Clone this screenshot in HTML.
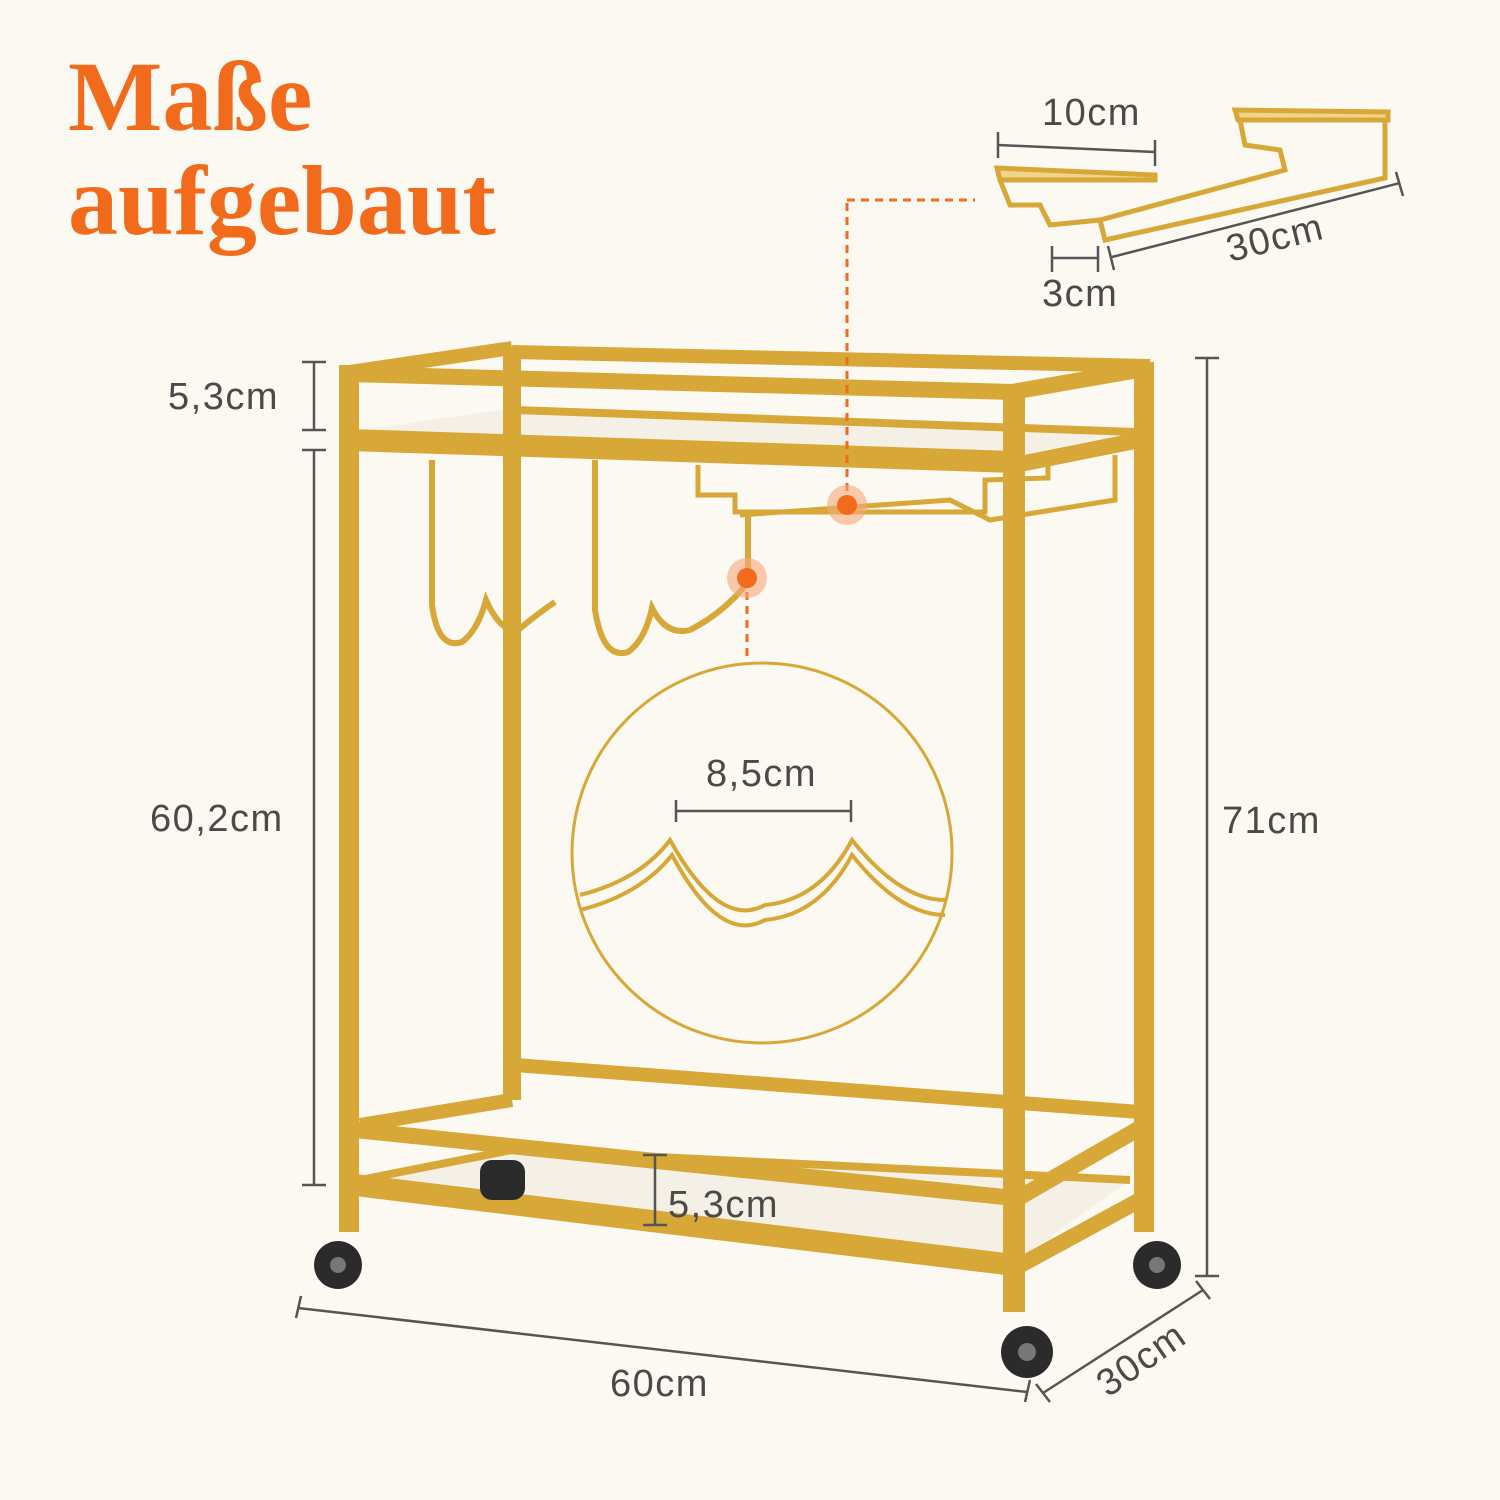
<!DOCTYPE html>
<html><head><meta charset="utf-8"><style>
html,body{margin:0;padding:0;background:#fcf9f3;}
svg{display:block}
.t{font-family:"Liberation Sans",sans-serif;fill:#4a4a4a;font-size:38px;letter-spacing:1.5px}
</style></head><body>
<svg width="1500" height="1500" viewBox="0 0 1500 1500" xmlns="http://www.w3.org/2000/svg">
<rect width="1500" height="1500" fill="#fcf9f3"/>
<text x="68" y="130" font-family="Liberation Serif,serif" font-weight="bold" font-size="100" fill="#f26a1b">Maße</text>
<text x="68" y="234" font-family="Liberation Serif,serif" font-weight="bold" font-size="100" fill="#f26a1b">aufgebaut</text>

<g stroke="#d7a838" stroke-linecap="butt" fill="none">
<polygon points="360,430 515,408 1135,432 1015,462" fill="#f2ede2" stroke="none" opacity="0.8"/>
<polygon points="360,1180 515,1150 1130,1180 1015,1262" fill="#f2ede2" stroke="none" opacity="0.8"/>
<line x1="512" y1="348" x2="512" y2="1100" stroke-width="18"/>
<line x1="1144" y1="362" x2="1144" y2="1232" stroke-width="20"/>
<line x1="512" y1="352" x2="1150" y2="366" stroke-width="14"/>
<line x1="515" y1="410" x2="1135" y2="432" stroke-width="8"/>
<line x1="515" y1="1065" x2="1140" y2="1112" stroke-width="14"/>
<line x1="515" y1="1150" x2="1130" y2="1180" stroke-width="8"/>
<!-- wine rack -->
<path d="M432,460 L432,605 Q438,650 462,642 Q478,630 486,600 Q500,632 518,630 Q540,612 555,602" stroke-width="6"/>
<path d="M595,460 L595,610 Q603,660 628,652 Q645,640 652,608 Q666,636 690,630 Q725,612 748,582 L748,510" stroke-width="6"/>
<path d="M698,465 L698,495 L735,495 L735,512 L985,512 L985,480 L1048,478 L1048,460" stroke-width="5"/>
<path d="M740,515 L950,500 L990,520 L1115,500 L1115,455" stroke-width="5"/>
<line x1="349" y1="372" x2="512" y2="348" stroke-width="14"/>
<line x1="1012" y1="392" x2="1150" y2="368" stroke-width="16"/>
<line x1="1015" y1="465" x2="1140" y2="440" stroke-width="16"/>
<line x1="360" y1="1125" x2="512" y2="1100" stroke-width="14"/>
<line x1="1015" y1="1200" x2="1140" y2="1128" stroke-width="16"/>
<line x1="1015" y1="1268" x2="1140" y2="1200" stroke-width="16"/>
<line x1="360" y1="1180" x2="512" y2="1150" stroke-width="8"/>
<line x1="349" y1="374" x2="1014" y2="392" stroke-width="16"/>
<line x1="349" y1="440" x2="1014" y2="462" stroke-width="22"/>
<line x1="355" y1="1130" x2="1014" y2="1198" stroke-width="16"/>
<line x1="355" y1="1185" x2="1014" y2="1265" stroke-width="22"/>
<line x1="349" y1="365" x2="349" y2="1232" stroke-width="20"/>
<line x1="1014" y1="385" x2="1014" y2="1312" stroke-width="22"/>
</g>
<g fill="#2b2b2b">
<circle cx="338" cy="1265" r="24"/><circle cx="1157" cy="1265" r="24"/><circle cx="1027" cy="1352" r="26"/>
<rect x="480" y="1160" width="45" height="40" rx="12"/>
</g>
<g fill="#777"><circle cx="338" cy="1265" r="8"/><circle cx="1157" cy="1265" r="8"/><circle cx="1027" cy="1352" r="9"/></g>

<g stroke="#f26a1b" stroke-width="3" stroke-dasharray="8,6" fill="none">
<line x1="847" y1="505" x2="847" y2="200"/><line x1="847" y1="200" x2="975" y2="200"/>
<line x1="747" y1="578" x2="747" y2="660"/>
</g>
<circle cx="847" cy="505" r="20" fill="#f7a77a" opacity="0.6"/><circle cx="847" cy="505" r="10" fill="#f26a1b"/>
<circle cx="747" cy="578" r="20" fill="#f7a77a" opacity="0.6"/><circle cx="747" cy="578" r="10" fill="#f26a1b"/>

<circle cx="762" cy="853" r="190" fill="#fcf9f3" stroke="#d7a838" stroke-width="3"/>
<g stroke="#d7a838" stroke-width="4" fill="none">
<path d="M580,895 Q640,880 670,840 Q720,930 765,905 Q820,900 852,840 Q900,900 945,900"/>
<path d="M580,910 Q640,895 672,855 Q720,945 765,920 Q820,915 852,855 Q900,915 945,915"/>
</g>
<g stroke="#555" stroke-width="2.5">
<line x1="676" y1="811" x2="851" y2="811"/><line x1="676" y1="800" x2="676" y2="822"/><line x1="851" y1="800" x2="851" y2="822"/>
</g>
<text class="t" x="706" y="786">8,5cm</text>

<g stroke="#d7a838" stroke-width="5" fill="none">
<path d="M997,168 L1155,175 L1155,180 L1000,180 Z" fill="#f0d48a"/>
<path d="M1235,110 L1388,112 L1388,120 L1238,120 Z" fill="#f0d48a"/>
<path d="M1000,180 L1010,205 L1040,205 L1050,225 L1100,220 L1105,240 L1385,178 L1385,122"/>
<path d="M1240,120 L1245,145 L1280,150 L1285,170 L1100,220"/>
</g>
<g stroke="#555" stroke-width="2.5">
<line x1="998" y1="145" x2="1155" y2="152"/><line x1="998" y1="132" x2="998" y2="158"/><line x1="1155" y1="140" x2="1155" y2="166"/>
<line x1="1052" y1="258" x2="1098" y2="258"/><line x1="1052" y1="246" x2="1052" y2="272"/><line x1="1098" y1="246" x2="1098" y2="272"/>
<line x1="1112" y1="257" x2="1400" y2="183"/><line x1="1108" y1="246" x2="1114" y2="270"/><line x1="1396" y1="172" x2="1403" y2="196"/>
</g>
<text class="t" x="1042" y="125" font-size="30">10cm</text>
<text class="t" x="1042" y="306" font-size="30">3cm</text>
<text class="t" x="1230" y="262" font-size="30" transform="rotate(-14 1230 262)">30cm</text>

<g stroke="#555" stroke-width="2.5">
<line x1="314" y1="362" x2="314" y2="430"/><line x1="302" y1="362" x2="326" y2="362"/><line x1="302" y1="430" x2="326" y2="430"/>
<line x1="314" y1="450" x2="314" y2="1185"/><line x1="302" y1="450" x2="326" y2="450"/><line x1="302" y1="1185" x2="326" y2="1185"/>
<line x1="1207" y1="358" x2="1207" y2="1276"/><line x1="1195" y1="358" x2="1219" y2="358"/><line x1="1195" y1="1276" x2="1219" y2="1276"/>
<line x1="655" y1="1155" x2="655" y2="1225"/><line x1="643" y1="1155" x2="667" y2="1155"/><line x1="643" y1="1225" x2="667" y2="1225"/>
<line x1="298" y1="1308" x2="1027" y2="1392"/><line x1="301" y1="1296" x2="296" y2="1318"/><line x1="1030" y1="1380" x2="1025" y2="1402"/>
<line x1="1043" y1="1393" x2="1203" y2="1290"/><line x1="1036" y1="1384" x2="1050" y2="1402"/><line x1="1196" y1="1281" x2="1210" y2="1299"/>
</g>
<text class="t" x="168" y="409">5,3cm</text>
<text class="t" x="150" y="831">60,2cm</text>
<text class="t" x="1222" y="833">71cm</text>
<text class="t" x="668" y="1217">5,3cm</text>
<text class="t" x="610" y="1396">60cm</text>
<text class="t" x="1108" y="1398" transform="rotate(-35 1108 1398)">30cm</text>
</svg>
</body></html>
